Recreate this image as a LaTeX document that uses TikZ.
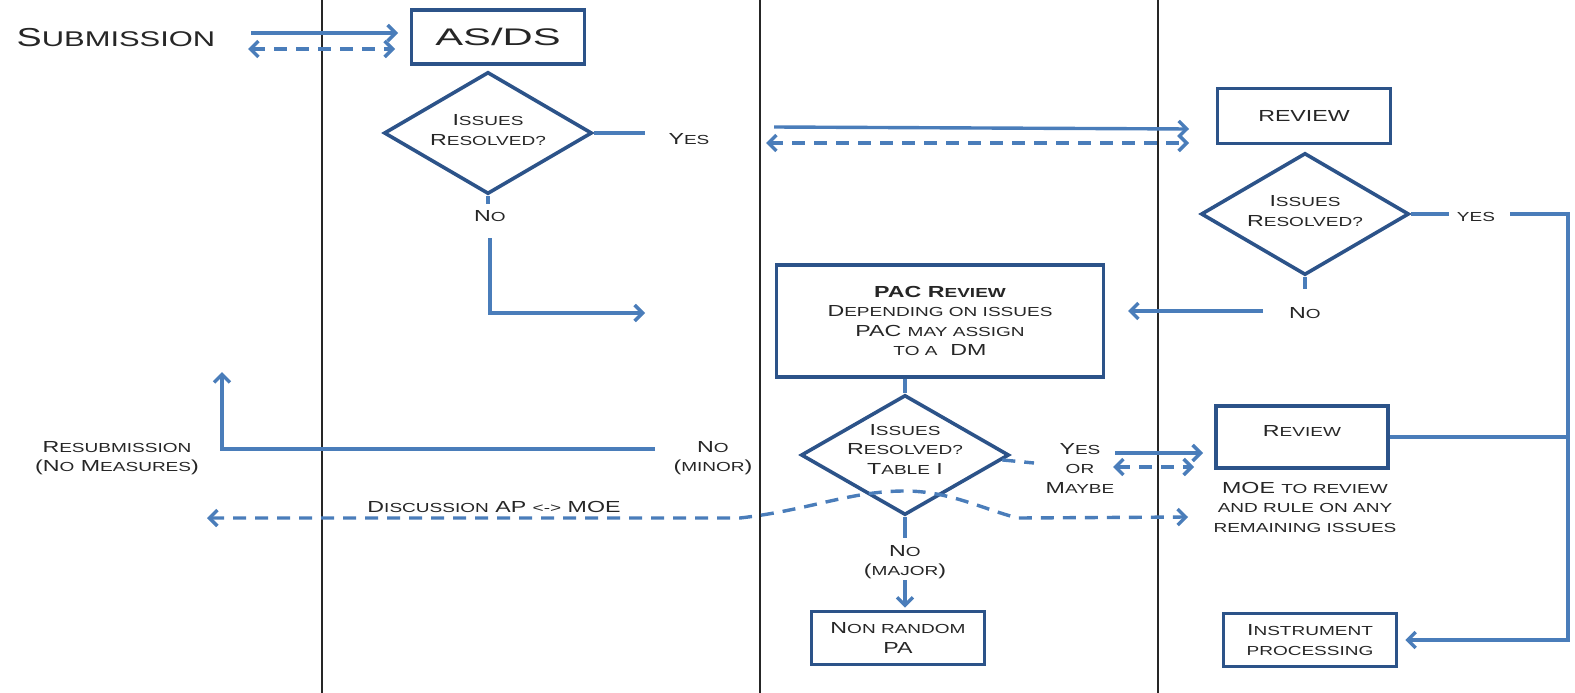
\documentclass[tikz,border=0pt]{standalone}
\usepackage{fontspec}
\usepackage{graphicx}
\setmainfont{Liberation Sans}[FakeStretch=1.45]
\usetikzlibrary{arrows.meta,shapes.geometric,calc}
\definecolor{lineblue}{HTML}{4A7DBA}
\definecolor{boxblue}{HTML}{2C5389}
\definecolor{txt}{HTML}{262626}
\newcommand\s[1]{\scalebox{0.82}{#1}}
\begin{document}
\begin{tikzpicture}[x=1pt,y=-1pt,
  every node/.style={text=txt, font=\fontsize{16}{19.5}\selectfont},
  box/.style={draw=boxblue, line width=3.6pt, rectangle, inner sep=0pt, align=center},
  dia/.style={draw=boxblue, line width=3.6pt, diamond, inner sep=0pt, minimum width=208pt, minimum height=122pt},
  lbl/.style={align=center, inner sep=0pt},
  conn/.style={draw=lineblue, line width=3.4pt},
  arr/.style={conn, -{Straight Barb[length=8pt,width=16pt]}},
  dashconn/.style={conn, dash pattern=on 13pt off 9pt},
  darr/.style={dashconn, {Straight Barb[length=8pt,width=16pt]}-{Straight Barb[length=8pt,width=16pt]}},
  lane/.style={draw=black!85, line width=1.8pt}
]
\useasboundingbox (0,0) rectangle (1575,693);
% swim lanes
\coordinate (l1t) at (322,0);  \coordinate (l1b) at (322,693);
\coordinate (l2t) at (760,0);  \coordinate (l2b) at (760,693);
\coordinate (l3t) at (1158,0); \coordinate (l3b) at (1158,693);
\draw[lane] (l1t) -- (l1b);
\draw[lane] (l2t) -- (l2b);
\draw[lane] (l3t) -- (l3b);

% nodes
\node[lbl, font=\fontsize{26}{28}\selectfont] (sub) at (116,38) {S\s{UBMISSION}};
\node[box, minimum width=173pt, minimum height=54pt, font=\fontsize{24}{26}\selectfont] (asds) at (498,37) {\scalebox{1.2}[1]{AS/DS}};
\node[dia] (d1) at (488,133) {};
\node[lbl] (d1t) at (488,130) {I\s{SSUES}\\R\s{ESOLVED?}};
\node[lbl] (yes1) at (689,139) {Y\s{ES}};
\node[lbl] (no1) at (490,216) {N\s{O}};

\node[box, minimum width=173pt, minimum height=55pt] (rev1) at (1304,116) {REVIEW};
\node[dia] (d2) at (1305,214) {};
\node[lbl] (d2t) at (1305,211) {I\s{SSUES}\\R\s{ESOLVED?}};
\node[lbl] (yes2) at (1476,217) {\s{YES}};
\node[lbl] (no2) at (1305,313) {N\s{O}};

\node[box, minimum width=327pt, minimum height=112pt] (pac) at (940,321)
  {\textbf{PAC R\s{EVIEW}}\\D\s{EPENDING ON ISSUES}\\PAC \s{MAY ASSIGN}\\\s{TO A}\ \ DM};
\node[dia, minimum height=120pt] (d3) at (905,455) {};
\node[lbl] (d3t) at (905,449) {I\s{SSUES}\\R\s{ESOLVED?}\\T\s{ABLE} I};
\node[lbl] (yom) at (1080,468) {Y\s{ES}\\\s{OR}\\M\s{AYBE}};
\node[box, minimum width=172pt, minimum height=62pt] (rev2) at (1302,437) {};
\node[lbl] (rev2t) at (1302,431) {R\s{EVIEW}};
\node[lbl] (moe) at (1305,507) {MOE \s{TO REVIEW}\\\s{AND RULE ON ANY}\\\s{REMAINING ISSUES}};
\node[lbl] (nomaj) at (905,562) {N\s{O}\\(\s{MAJOR})};
\node[box, minimum width=173pt, minimum height=53pt] (nrpa) at (898,638) {N\s{ON RANDOM}\\PA};
\node[box, minimum width=173pt, minimum height=53pt] (inst) at (1310,640) {I\s{NSTRUMENT}\\\s{PROCESSING}};
\node[lbl] (nomin) at (713,458) {N\s{O}\\(\s{MINOR})};
\node[lbl] (resub) at (117,458) {R\s{ESUBMISSION}\\(N\s{O} M\s{EASURES})};
\node[lbl] (disc) at (494,507) {D\s{ISCUSSION} AP \s{<->} MOE};

% connector end points
\coordinate (s1a) at (251,33);  \coordinate (s1b) at (398,33);
\coordinate (s2a) at (248,49);  \coordinate (s2b) at (395,49);
\coordinate (y1e) at (645,133);
\coordinate (r1a) at (774,127); \coordinate (r1b) at (1189,129);
\coordinate (r2a) at (766,143); \coordinate (r2b) at (1189,143);
\coordinate (n1a) at (490,238); \coordinate (n1b) at (490,313); \coordinate (n1c) at (645,313);
\coordinate (y2e) at (1449,214); \coordinate (y2s) at (1510,214); \coordinate (rc) at (1568,214);
\coordinate (rcb) at (1568,640);
\coordinate (n2e) at (1305,289);
\coordinate (p1a) at (1263,311); \coordinate (p1b) at (1128,311);
\coordinate (ys) at (1034,463);
\coordinate (m1a) at (1115,453); \coordinate (m1b) at (1203,453);
\coordinate (m2a) at (1113,467); \coordinate (m2b) at (1194,467);
\coordinate (n3e) at (905,538);
\coordinate (n3a) at (905,580);
\coordinate (mina) at (655,449); \coordinate (minc) at (222,449); \coordinate (mind) at (222,372);
\coordinate (dL) at (207,518); \coordinate (dR) at (1188,517);

% connectors
\draw[arr] (s1a) -- (s1b);
\draw[darr] (s2a) -- (s2b);
\draw[conn] (d1.east) -- (y1e);
\draw[arr] (r1a) -- (r1b);
\draw[darr] (r2a) -- (r2b);
\draw[conn] (d1.south) -- ++(0,8);
\draw[arr] (n1a) -- (n1b) -- (n1c);
\draw[conn] (d2.east) -- (y2e);
\draw[arr, shorten >=7pt] (y2s) -- (rc) -- (rcb) -- (rcb -| inst.east);
\draw[conn] (rev2.east) -- (rev2.east -| rc);
\draw[conn] (d2.south) -- (n2e);
\draw[arr] (p1a) -- (p1b);
\draw[conn] (d3.north) -- (d3.north |- pac.south);
\draw[dashconn] ($(d3.east)!0.08!(d3.south)$) -- (ys);
\draw[arr] (m1a) -- (m1b);
\draw[darr] (m2a) -- (m2b);
\draw[conn] (d3.south) -- (n3e);
\draw[arr, shorten >=2pt] (n3a) -- (n3a |- nrpa.north);
\draw[arr] (mina) -- (minc) -- (mind);
\draw[darr] (dL) -- (740,518) .. controls (810,510) and (850,491) .. (905,491)
  .. controls (950,491) and (985,510) .. (1018,518) -- (dR);
\end{tikzpicture}
\end{document}
